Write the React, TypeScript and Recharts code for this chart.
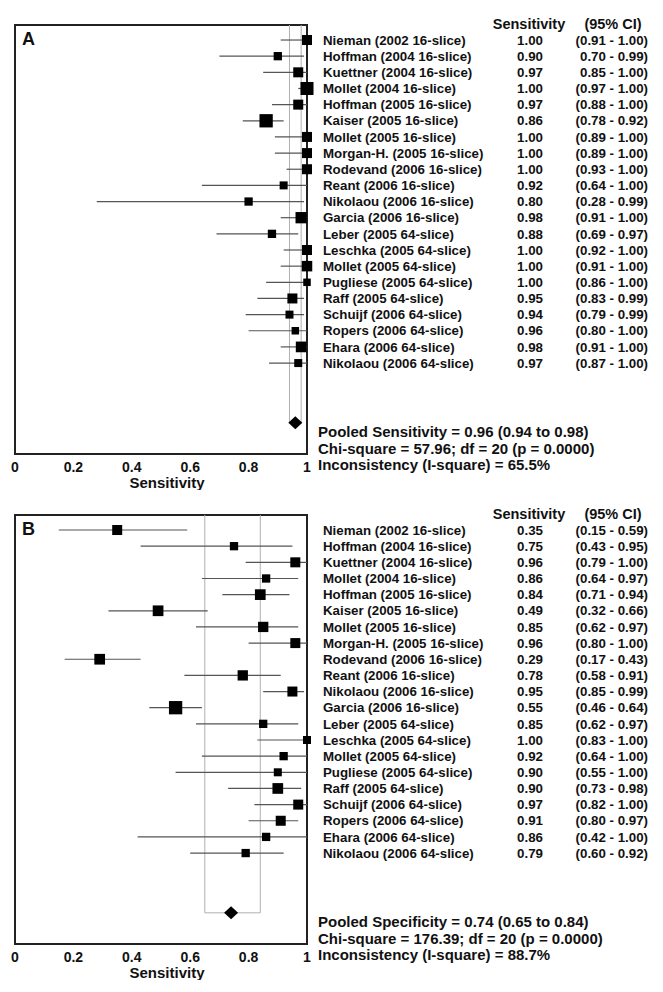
import React from 'react';
import { ScatterChart, Scatter, XAxis, YAxis, ErrorBar, ReferenceArea, ReferenceLine, ReferenceDot } from 'recharts';

const STUDIES = [
  'Nieman (2002 16-slice)', 'Hoffman (2004 16-slice)', 'Kuettner (2004 16-slice)', 'Mollet (2004 16-slice)',
  'Hoffman (2005 16-slice)', 'Kaiser (2005 16-slice)', 'Mollet (2005 16-slice)', 'Morgan-H. (2005 16-slice)',
  'Rodevand (2006 16-slice)', 'Reant (2006 16-slice)', 'Nikolaou (2006 16-slice)', 'Garcia (2006 16-slice)',
  'Leber (2005 64-slice)', 'Leschka (2005 64-slice)', 'Mollet (2005 64-slice)', 'Pugliese (2005 64-slice)',
  'Raff (2005 64-slice)', 'Schuijf (2006 64-slice)', 'Ropers (2006 64-slice)', 'Ehara (2006 64-slice)',
  'Nikolaou (2006 64-slice)',
];

const X_TICKS = [0, 0.2, 0.4, 0.6, 0.8, 1];

// Panel A
const VAL_A = [1.0, 0.9, 0.97, 1.0, 0.97, 0.86, 1.0, 1.0, 1.0, 0.92, 0.8, 0.98, 0.88, 1.0, 1.0, 1.0, 0.95, 0.94, 0.96, 0.98, 0.97];
const LO_A = [0.91, 0.7, 0.85, 0.97, 0.88, 0.78, 0.89, 0.89, 0.93, 0.64, 0.28, 0.91, 0.69, 0.92, 0.91, 0.86, 0.83, 0.79, 0.8, 0.91, 0.87];
const HI_A = [1.0, 0.99, 1.0, 1.0, 1.0, 0.92, 1.0, 1.0, 1.0, 1.0, 0.99, 1.0, 0.97, 1.0, 1.0, 1.0, 0.99, 0.99, 1.0, 1.0, 1.0];
const WEIGHT_A = [10, 8.3, 10, 13, 10, 13.3, 10, 10, 10, 8, 8.3, 11.3, 8.3, 10, 10.5, 7.5, 10, 8, 7.5, 10.7, 8];
const NO_PAREN_A = [1, 2];
const POOLED_A = { est: 0.96, lo: 0.94, hi: 0.98 };
const STATS_A = [
  'Pooled Sensitivity = 0.96 (0.94 to 0.98)',
  'Chi-square = 57.96; df = 20 (p = 0.0000)',
  'Inconsistency (I-square) = 65.5%',
];

// Panel B
const VAL_B = [0.35, 0.75, 0.96, 0.86, 0.84, 0.49, 0.85, 0.96, 0.29, 0.78, 0.95, 0.55, 0.85, 1.0, 0.92, 0.9, 0.9, 0.97, 0.91, 0.86, 0.79];
const LO_B = [0.15, 0.43, 0.79, 0.64, 0.71, 0.32, 0.62, 0.8, 0.17, 0.58, 0.85, 0.46, 0.62, 0.83, 0.64, 0.55, 0.73, 0.82, 0.8, 0.42, 0.6];
const HI_B = [0.59, 0.95, 1.0, 0.97, 0.94, 0.66, 0.97, 1.0, 0.43, 0.91, 0.99, 0.64, 0.97, 1.0, 1.0, 1.0, 0.98, 1.0, 0.97, 1.0, 0.92];
const WEIGHT_B = [10, 8.3, 10, 8.3, 10.7, 10.7, 10.3, 10, 10.7, 10.3, 10, 13.3, 8.3, 8, 8.3, 8, 10.7, 10, 10, 8.3, 8.3];
const NO_PAREN_B: number[] = [];
const POOLED_B = { est: 0.74, lo: 0.65, hi: 0.84 };
const STATS_B = [
  'Pooled Specificity = 0.74 (0.65 to 0.84)',
  'Chi-square = 176.39; df = 20 (p = 0.0000)',
  'Inconsistency (I-square) = 88.7%',
];

const ROW_DOMAIN: [number, number] = [-0.93, 25.63];
const POOLED_ROW = 23.7;
const FONT = '"Liberation Sans", Arial, Helvetica, sans-serif';
const INK = '#111';

const fmt = (v: number) => v.toFixed(2);

const SquareShape = (props: any) => {
  const { cx, cy, payload } = props;
  const s = payload.size;
  return <rect x={cx - s / 2} y={cy - s / 2} width={s} height={s} fill="#000" />;
};

const DiamondShape = (props: any) => {
  const { cx, cy } = props;
  const w = 7, h = 6.5;
  return <path d={`M${cx - w},${cy} L${cx},${cy - h} L${cx + w},${cy} L${cx},${cy + h} Z`} fill="#000" />;
};

function makeTick(rows: any[], stats: string[]) {
  return (props: any) => {
    const { x, y, payload } = props;
    const v = payload.value;
    if (v === POOLED_ROW) {
      return (
        <g>
          {stats.map((s, i) => (
            <text key={i} x={x + 11} y={y + 9 + i * 16.5} dy="0.35em" fontSize={15} fontWeight="bold" fill={INK} fontFamily={FONT}>
              {s}
            </text>
          ))}
        </g>
      );
    }
    const r = rows[v];
    if (!r) return <g />;
    return (
      <g>
        {v === 0 && (
          <g>
            <text x={x + 222} y={y - 16.5} dy="0.35em" textAnchor="middle" fontSize={14.5} fontWeight="bold" fill={INK} fontFamily={FONT}>Sensitivity</text>
            <text x={x + 306} y={y - 16.5} dy="0.35em" textAnchor="middle" fontSize={14.5} fontWeight="bold" fill={INK} fontFamily={FONT}>(95% CI)</text>
          </g>
        )}
        <text x={x + 16} y={y} dy="0.35em" fontSize={13.3} fontWeight="bold" fill={INK} fontFamily={FONT}>{r.name}</text>
        <text x={x + 223} y={y} dy="0.35em" textAnchor="middle" fontSize={13.3} fontWeight="bold" fill={INK} fontFamily={FONT}>{fmt(r.v)}</text>
        <text x={x + 341} y={y} dy="0.35em" textAnchor="end" fontSize={13.3} fontWeight="bold" fill={INK} fontFamily={FONT}>{r.ci}</text>
      </g>
    );
  };
}

const AxisTitle = (props: any) => {
  const { viewBox } = props;
  const cx = viewBox.x + viewBox.width / 2 + 6;
  return (
    <text x={cx} y={viewBox.y + 29} dy="0.35em" textAnchor="middle" fontSize={15} fontWeight="bold" fill={INK} fontFamily={FONT}>
      Sensitivity
    </text>
  );
};

function Panel(props: {
  letter: string; values: number[]; lo: number[]; hi: number[]; weights: number[]; noParen: number[];
  pooled: { est: number; lo: number; hi: number }; stats: string[];
}) {
  const { letter, values, lo, hi, weights, noParen, pooled, stats } = props;
  const rows = STUDIES.map((name, i) => ({
    row: i,
    name,
    v: values[i],
    err: [values[i] - lo[i], hi[i] - values[i]],
    size: weights[i],
    ci: `${noParen.includes(i) ? '' : '('}${fmt(lo[i])} - ${fmt(hi[i])})`,
  }));
  const ticks = [...rows.map((r) => r.row), POOLED_ROW];
  const Tick = makeTick(rows, stats);
  return (
    <ScatterChart width={663} height={490} margin={{ top: 25, left: 15, right: 0, bottom: 0 }}>
      <XAxis
        type="number"
        dataKey="v"
        domain={[0, 1]}
        ticks={X_TICKS}
        axisLine={false}
        tickLine={false}
        height={36}
        tick={{ fontSize: 14, fontWeight: 'bold', fill: INK, fontFamily: FONT }}
        label={<AxisTitle />}
      />
      <YAxis
        type="number"
        dataKey="row"
        domain={ROW_DOMAIN}
        reversed
        orientation="right"
        width={356}
        ticks={ticks}
        interval={0}
        tickSize={0}
        tickMargin={0}
        axisLine={false}
        tickLine={false}
        allowDataOverflow
        tick={<Tick />}
      />
      <ReferenceLine segment={[{ x: pooled.lo, y: ROW_DOMAIN[0] }, { x: pooled.lo, y: POOLED_ROW }]} stroke="#b0b0b0" strokeWidth={1} ifOverflow="visible" />
      <ReferenceLine segment={[{ x: pooled.hi, y: ROW_DOMAIN[0] }, { x: pooled.hi, y: POOLED_ROW }]} stroke="#b0b0b0" strokeWidth={1} ifOverflow="visible" />
      <ReferenceLine segment={[{ x: pooled.lo, y: POOLED_ROW }, { x: pooled.hi, y: POOLED_ROW }]} stroke="#b0b0b0" strokeWidth={1} ifOverflow="visible" />
      <Scatter data={rows} shape={SquareShape} isAnimationActive={false}>
        <ErrorBar dataKey="err" direction="x" width={0} stroke="#555" strokeWidth={1.2} />
      </Scatter>
      <ReferenceDot x={pooled.est} y={POOLED_ROW} shape={DiamondShape} ifOverflow="visible" />
      <ReferenceArea
        x1={0}
        x2={1}
        y1={ROW_DOMAIN[0]}
        y2={ROW_DOMAIN[1]}
        fill="none"
        fillOpacity={0}
        stroke="#222"
        strokeWidth={2}
        ifOverflow="visible"
        label={{ value: letter, position: 'insideTopLeft', offset: 7, fontSize: 18, fontWeight: 'bold', fill: INK, fontFamily: FONT }}
      />
    </ScatterChart>
  );
}

export default function App() {
  return (
    <div style={{ position: 'absolute', left: 0, top: 0, width: 663, height: 992, background: '#fff', fontFamily: FONT }}>
      <Panel letter="A" values={VAL_A} lo={LO_A} hi={HI_A} weights={WEIGHT_A} noParen={NO_PAREN_A} pooled={POOLED_A} stats={STATS_A} />
      <Panel letter="B" values={VAL_B} lo={LO_B} hi={HI_B} weights={WEIGHT_B} noParen={NO_PAREN_B} pooled={POOLED_B} stats={STATS_B} />
    </div>
  );
}
